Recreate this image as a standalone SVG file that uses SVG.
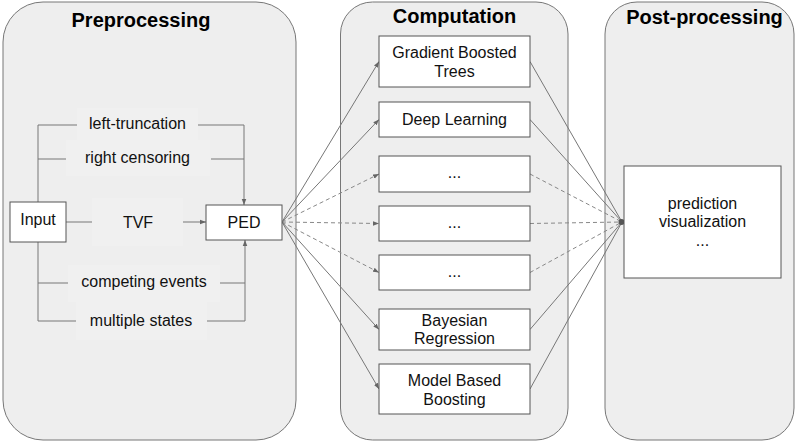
<svg xmlns="http://www.w3.org/2000/svg" width="796" height="443" viewBox="0 0 796 443">
<defs>
<style>
.panel{fill:#eeeeee;stroke:#777;stroke-width:1}
.box{fill:#fff;stroke:#555;stroke-width:1}
.lbg{fill:#f0f0f0;stroke:none}
.title{font-family:"Liberation Sans",Arial,sans-serif;font-weight:bold;font-size:20px;fill:#000;text-anchor:middle}
.t{font-family:"Liberation Sans",Arial,sans-serif;font-size:16px;fill:#111;text-anchor:middle}
.ln{fill:none;stroke:#777;stroke-width:1}
.dash{fill:none;stroke:#888;stroke-width:1;stroke-dasharray:4 3}
</style>
<marker id="arr" viewBox="0 0 8 8" refX="8" refY="4" markerWidth="6" markerHeight="6" markerUnits="userSpaceOnUse" orient="auto">
<path d="M0,1 L8,4 L0,7 z" fill="#666"/>
</marker>
</defs>

<g id="panel-preprocessing">
<rect class="panel" x="3" y="2" width="293" height="438" rx="40" ry="40"/>
<text class="title" x="141" y="27">Preprocessing</text>
</g>
<g id="panel-computation">
<rect class="panel" x="340.5" y="2" width="227.5" height="438" rx="32" ry="32"/>
<text class="title" x="454.5" y="23">Computation</text>
</g>
<g id="panel-postprocessing">
<rect class="panel" x="605" y="2" width="189" height="438" rx="32" ry="32"/>
<text class="title" x="704.5" y="24">Post-processing</text>
</g>

<g id="label-backgrounds">
<rect class="lbg" x="77" y="108" width="121" height="32"/>
<rect class="lbg" x="66" y="140" width="144" height="36"/>
<rect class="lbg" x="92" y="198" width="91" height="48"/>
<rect class="lbg" x="68" y="265" width="152" height="37"/>
<rect class="lbg" x="76" y="302" width="131" height="38"/>
</g>

<g id="connectors">
<path class="ln" d="M38,202 V125 H77"/>
<path class="ln" d="M198,125 H244 V205" marker-end="url(#arr)"/>
<path class="ln" d="M38,159 H66"/>
<path class="ln" d="M211,159 H244"/>
<path class="ln" d="M38,242 V321 H76"/>
<path class="ln" d="M207,321 H245 V240" marker-end="url(#arr)"/>
<path class="ln" d="M38,283 H68"/>
<path class="ln" d="M220,283 H245"/>
<path class="ln" d="M66,222 H92"/>
<path class="ln" d="M183,222 H206" marker-end="url(#arr)"/>
<path class="ln" d="M282,222 L379,61.5" marker-end="url(#arr)"/>
<path class="ln" d="M282,222 L379,119.5" marker-end="url(#arr)"/>
<path class="dash" d="M282,222 L379,174" marker-end="url(#arr)"/>
<path class="dash" d="M282,222 L379,223.5" marker-end="url(#arr)"/>
<path class="dash" d="M282,222 L379,272.5" marker-end="url(#arr)"/>
<path class="ln" d="M282,222 L379,329.5" marker-end="url(#arr)"/>
<path class="ln" d="M282,222 L379,389" marker-end="url(#arr)"/>
<path class="ln" d="M530,61.5 L622,222"/>
<path class="ln" d="M530,119.5 L622,222"/>
<path class="dash" d="M530,174 L622,222"/>
<path class="dash" d="M530,223.5 L622,222"/>
<path class="dash" d="M530,272.5 L622,222"/>
<path class="ln" d="M530,329.5 L622,222"/>
<path class="ln" d="M530,389 L622,222"/>
<circle cx="621.5" cy="222" r="3" fill="#555"/>
</g>

<g id="node-input">
<rect class="box" x="10" y="202" width="56" height="40"/>
<text class="t" x="38" y="225">Input</text>
</g>
<g id="node-ped">
<rect class="box" x="206" y="205" width="76" height="35"/>
<text class="t" x="244" y="228">PED</text>
</g>
<g id="label-left-truncation"><text class="t" x="137.5" y="129">left-truncation</text></g>
<g id="label-right-censoring"><text class="t" x="137.5" y="163">right censoring</text></g>
<g id="label-tvf"><text class="t" x="138" y="228">TVF</text></g>
<g id="label-competing-events"><text class="t" x="144" y="287">competing events</text></g>
<g id="label-multiple-states"><text class="t" x="141" y="326">multiple states</text></g>

<g id="node-gbt">
<rect class="box" x="379" y="36" width="151" height="51"/>
<text class="t" x="454.5" y="58">Gradient Boosted</text>
<text class="t" x="454.5" y="77">Trees</text>
</g>
<g id="node-dl">
<rect class="box" x="379" y="102" width="151" height="35"/>
<text class="t" x="454.5" y="125">Deep Learning</text>
</g>
<g id="node-dots1">
<rect class="box" x="379" y="156" width="151" height="36"/>
<text class="t" x="454.5" y="178">...</text>
</g>
<g id="node-dots2">
<rect class="box" x="379" y="206" width="151" height="35"/>
<text class="t" x="454.5" y="228">...</text>
</g>
<g id="node-dots3">
<rect class="box" x="379" y="255" width="151" height="35"/>
<text class="t" x="454.5" y="277">...</text>
</g>
<g id="node-bayes">
<rect class="box" x="379" y="309" width="151" height="41"/>
<text class="t" x="454.5" y="326">Bayesian</text>
<text class="t" x="454.5" y="344">Regression</text>
</g>
<g id="node-mbb">
<rect class="box" x="379" y="364" width="151" height="50"/>
<text class="t" x="454.5" y="386">Model Based</text>
<text class="t" x="454.5" y="405">Boosting</text>
</g>

<g id="node-post">
<rect class="box" x="624" y="166" width="157" height="112"/>
<text class="t" x="702.5" y="209">prediction</text>
<text class="t" x="702.5" y="227">visualization</text>
<text class="t" x="702.5" y="246">...</text>
</g>
</svg>
